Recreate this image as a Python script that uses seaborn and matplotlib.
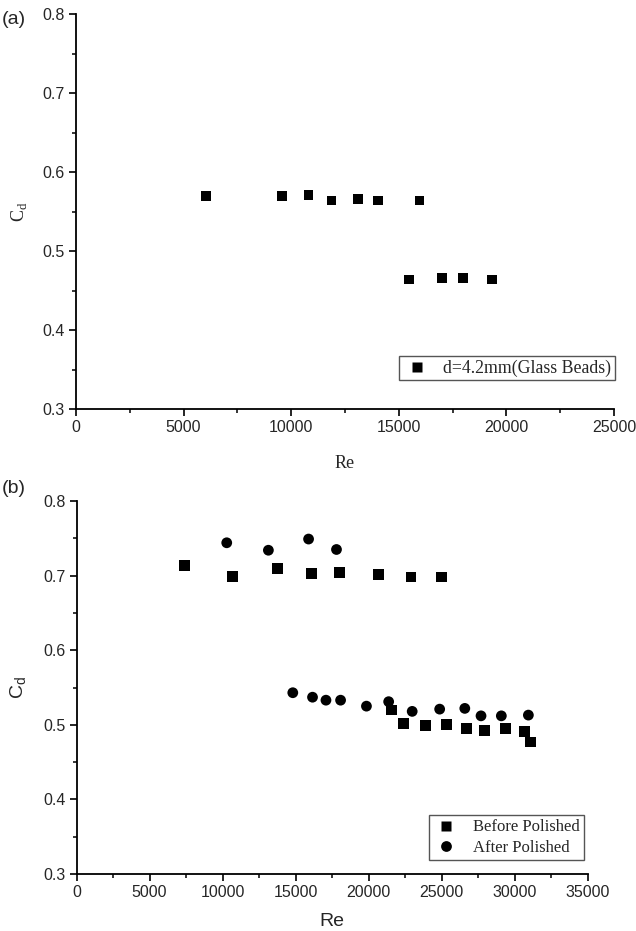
import matplotlib
matplotlib.use("Agg")
import matplotlib.pyplot as plt
import seaborn as sns
import pandas as pd
from matplotlib.ticker import MultipleLocator

# Panel (a): d=4.2mm glass beads
re_a = [6050, 9560, 10800, 11870, 13090, 14050, 15965, 15480, 17020, 17990, 19330]
cd_a = [0.570, 0.570, 0.571, 0.564, 0.566, 0.564, 0.564, 0.464, 0.466, 0.466, 0.464]

# Panel (b): before polished
re_before = [7400, 10700, 13770, 16100, 18010, 20640, 22890, 24990,
             21530, 22390, 23880, 25330, 26680, 27930, 29340, 30650, 31090]
cd_before = [0.714, 0.699, 0.710, 0.703, 0.704, 0.701, 0.698, 0.698,
             0.520, 0.502, 0.499, 0.500, 0.495, 0.492, 0.495, 0.491, 0.477]

# Panel (b): after polished
re_after = [10280, 13130, 15880, 17790,
            14800, 16150, 17070, 18070, 19840, 21360, 22970, 24850, 26570, 27680, 29070, 30920]
cd_after = [0.744, 0.734, 0.749, 0.735,
            0.543, 0.537, 0.533, 0.533, 0.525, 0.531, 0.518, 0.521, 0.522, 0.512, 0.512, 0.513]

label_a = "d=4.2mm(Glass Beads)"
label_before = "Before Polished"
label_after = "After Polished"

sns.set_theme(style="ticks")
plt.rcParams['font.family'] = ['Liberation Sans', 'DejaVu Sans']

W, H = 636, 931
fig = plt.figure(figsize=(W / 100, H / 100), dpi=100)

def rect(l, r, t, b):
    return [l / W, 1 - b / H, (r - l) / W, (b - t) / H]

ax1 = fig.add_axes(rect(76, 614, 14, 409))
ax2 = fig.add_axes(rect(76.5, 588, 501, 874))

serif = ['Liberation Serif', 'DejaVu Serif']

df_a = pd.DataFrame({"Re": re_a, "Cd": cd_a, "grp": label_a})
sns.scatterplot(data=df_a, x="Re", y="Cd", hue="grp", palette=["black"],
                marker="s", s=50, edgecolor="none", ax=ax1)

df_b = pd.concat([
    pd.DataFrame({"Re": re_before, "Cd": cd_before, "grp": label_before}),
    pd.DataFrame({"Re": re_after, "Cd": cd_after, "grp": label_after}),
])
sns.scatterplot(data=df_b, x="Re", y="Cd", hue="grp", style="grp",
                markers={label_before: "s", label_after: "o"},
                palette=["black", "black"], s=60, edgecolor="none", ax=ax2)

for ax, xmax in [(ax1, 25000), (ax2, 35000)]:
    ax.set_xlim(0, xmax)
    ax.set_ylim(0.3, 0.8)
    ax.xaxis.set_major_locator(MultipleLocator(5000))
    ax.xaxis.set_minor_locator(MultipleLocator(2500))
    ax.yaxis.set_major_locator(MultipleLocator(0.1))
    ax.yaxis.set_minor_locator(MultipleLocator(0.05))
    ax.yaxis.set_major_formatter(matplotlib.ticker.FormatStrFormatter('%.1f'))
    sns.despine(ax=ax)
    for s in ["left", "bottom"]:
        ax.spines[s].set_linewidth(1.3)
        ax.spines[s].set_color("black")
    ax.tick_params(which="major", length=5, width=1.2, labelsize=11.5, color="black",
                   direction="out", pad=3)
    ax.tick_params(which="minor", length=3, width=1.1, color="black", direction="out")
    ax.tick_params(axis="both", which="both", bottom=True, left=True)
    ax.set_facecolor("white")

ax1.set_xlabel("Re", fontsize=13, family=serif, labelpad=14)
ax1.set_ylabel(r"C$_\mathregular{d}$", fontsize=13, family=serif, labelpad=10)
ax2.set_xlabel("Re", fontsize=14, labelpad=9)
ax2.set_ylabel(r"C$_\mathregular{d}$", fontsize=14, labelpad=10)

leg1 = ax1.legend(loc="lower right", bbox_to_anchor=(1.018, 0.05), frameon=True,
                  fancybox=False, edgecolor="#555555", framealpha=1,
                  prop={'family': serif, 'size': 12.8}, handletextpad=0.7,
                  borderpad=0.2, handlelength=1.6, markerscale=1.0)
leg1.get_frame().set_linewidth(1.0)

leg2 = ax2.legend(loc="lower right", bbox_to_anchor=(1.008, 0.016), frameon=True,
                  fancybox=False, edgecolor="#555555", framealpha=1,
                  prop={'family': serif, 'size': 12}, handletextpad=0.8,
                  borderpad=0.25, handlelength=1.6, labelspacing=0.25)
leg2.get_frame().set_linewidth(1.0)

fig.text(2 / W, 1 - 20 / H, "(a)", fontsize=14, va="center", ha="left")
fig.text(2 / W, 1 - 488 / H, "(b)", fontsize=14, va="center", ha="left")

fig.savefig("out.png", dpi=100, facecolor="white")
